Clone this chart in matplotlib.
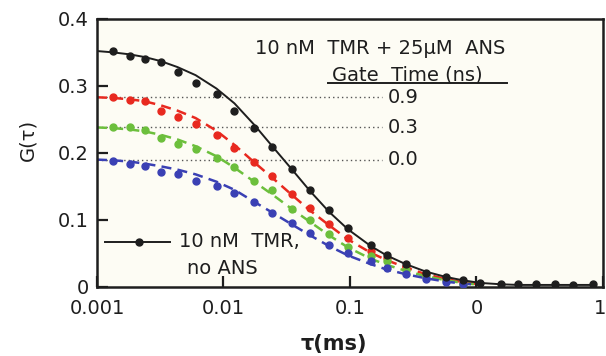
import matplotlib
matplotlib.use('agg')
import matplotlib.pyplot as plt
from matplotlib.lines import Line2D
from matplotlib.transforms import offset_copy

# tau grid (ms) of the measured points
tau = [0.00134, 0.00182, 0.00239, 0.00319, 0.00434, 0.00602, 0.00881, 0.0122,
       0.0175, 0.0243, 0.0349, 0.0484, 0.0684, 0.0964, 0.146, 0.195, 0.276,
       0.396, 0.570, 0.776, 1.07, 1.55, 2.14, 2.97, 4.19, 5.80, 8.34]

# 10 nM TMR, no ANS
g_black = [0.352, 0.345, 0.340, 0.336, 0.320, 0.305, 0.288, 0.263, 0.237, 0.209,
           0.176, 0.144, 0.115, 0.088, 0.063, 0.048, 0.034, 0.021, 0.015, 0.010,
           0.006, 0.004, 0.004, 0.004, 0.004, 0.003, 0.004]
# 10 nM TMR + 25 uM ANS, gate 0.9 / 0.3 / 0.0 ns
g_red = [0.284, 0.279, 0.278, 0.262, 0.254, 0.243, 0.227, 0.207, 0.186, 0.166,
         0.139, 0.118, 0.094, 0.073, 0.053, 0.043, 0.030, 0.019, 0.012, 0.007]
g_green = [0.238, 0.239, 0.234, 0.222, 0.213, 0.206, 0.192, 0.179, 0.158, 0.144,
           0.117, 0.100, 0.079, 0.060, 0.046, 0.038, 0.025, 0.016, 0.010, 0.005]
g_blue = [0.188, 0.183, 0.180, 0.172, 0.168, 0.158, 0.151, 0.140, 0.126, 0.111,
          0.096, 0.081, 0.063, 0.050, 0.038, 0.029, 0.019, 0.012, 0.008, 0.0045]

# fitted curves
tau_fit = [0.001] + tau
fit_black = [0.352, 0.350, 0.347, 0.343, 0.337, 0.328, 0.316, 0.296, 0.274, 0.242,
             0.210, 0.175, 0.143, 0.112, 0.086, 0.061, 0.047, 0.034, 0.023, 0.015,
             0.010, 0.006, 0.004, 0.003, 0.003, 0.003, 0.003, 0.003]
fit_red = [0.283, 0.282, 0.280, 0.277, 0.271, 0.263, 0.252, 0.233, 0.212, 0.186,
           0.163, 0.137, 0.114, 0.092, 0.071, 0.051, 0.040, 0.029, 0.019, 0.012,
           0.007, 0.004]
fit_green = [0.238, 0.237, 0.235, 0.232, 0.227, 0.220, 0.210, 0.195, 0.178, 0.157,
             0.138, 0.116, 0.097, 0.077, 0.059, 0.042, 0.033, 0.024, 0.016, 0.010,
             0.006, 0.003]
fit_blue = [0.190, 0.189, 0.187, 0.184, 0.180, 0.175, 0.168, 0.157, 0.145, 0.127,
            0.111, 0.093, 0.077, 0.061, 0.047, 0.034, 0.026, 0.019, 0.013, 0.008,
            0.005, 0.003]

gate_labels = ['0.9', '0.3', '0.0']
gate_levels = [0.283, 0.238, 0.190]

x_ticks = [0.001, 0.01, 0.1, 1, 10]
x_ticklabels = ['0.001', '0.01', '0.1', '0', '1']
y_ticks = [0, 0.1, 0.2, 0.3, 0.4]
y_ticklabels = ['0', '0.1', '0.2', '0.3', '0.4']

RED = '#e8291f'
GREEN = '#6cbf3c'
BLUE = '#3a40b4'
INK = '#1e1e1e'
FS = 14

fig = plt.figure(figsize=(6.06, 3.56), dpi=100)
ax = fig.add_axes([0.160, 0.194, 0.835, 0.753])
ax.set_facecolor('#fdfcf4')

# gate time reference lines
for lvl in gate_levels:
    ax.plot([0.001, 0.18], [lvl, lvl], linestyle=(0, (1, 2.2)), color='#555555',
            linewidth=1.0, zorder=1)

# coloured fits and points
n = len(g_red)
for fit, pts, col in [(fit_red, g_red, RED), (fit_green, g_green, GREEN), (fit_blue, g_blue, BLUE)]:
    ax.plot(tau_fit[:len(fit)], fit, color=col, linestyle=(0, (4, 2.5)), linewidth=1.8, zorder=2)
    ax.plot(tau[:n], pts, 'o', color=col, markersize=5, zorder=3)

ax.plot(tau_fit, fit_black, color=INK, linewidth=1.4, zorder=4)
ax.plot(tau, g_black, 'o', color=INK, markersize=5, zorder=5)

ax.set_xscale('log')
ax.set_xlim(0.001, 10)
ax.set_ylim(0, 0.4)
ax.set_xticks(x_ticks)
ax.set_xticklabels(x_ticklabels)
ax.set_yticks(y_ticks)
ax.set_yticklabels(y_ticklabels)
ax.minorticks_off()
ax.tick_params(axis='both', direction='in', length=8, width=1.6, colors=INK,
               labelsize=FS, pad=6)
ax.tick_params(axis='x', pad=9)
# keep the last x label inside the figure edge
last = ax.get_xticklabels()[-1]
last.set_transform(offset_copy(last.get_transform(), fig=fig, x=-3, units='dots'))
for s in ax.spines.values():
    s.set_linewidth(1.8)
    s.set_color(INK)

ax.set_ylabel('G(τ)', fontsize=FS, color=INK)
ax.yaxis.set_label_coords(-0.118, 0.55)
ax.set_xlabel('τ(ms)', fontsize=FS + 1, color=INK, fontweight='bold')
ax.xaxis.set_label_coords(0.468, -0.175)

# annotations
ax.text(0.312, 0.888, '10 nM  TMR + 25μM  ANS', transform=ax.transAxes,
        fontsize=FS, color=INK, ha='left', va='center')
ax.text(0.465, 0.79, 'Gate  Time (ns)', transform=ax.transAxes,
        fontsize=FS, color=INK, ha='left', va='center')
ax.add_line(Line2D([0.456, 0.81], [0.76, 0.76], transform=ax.transAxes,
                   color=INK, linewidth=1.4))
for lbl, lvl in zip(gate_labels, gate_levels):
    ax.text(0.575, lvl, lbl, transform=ax.get_yaxis_transform(),
            fontsize=FS, color=INK, ha='left', va='center')

# legend for the reference curve
ax.add_line(Line2D([0.016, 0.145], [0.168, 0.168], transform=ax.transAxes,
                   color=INK, linewidth=1.4))
ax.add_line(Line2D([0.083], [0.168], transform=ax.transAxes, marker='o',
                   color=INK, markersize=5))
ax.text(0.163, 0.168, '10 nM  TMR,', transform=ax.transAxes,
        fontsize=FS, color=INK, ha='left', va='center')
ax.text(0.178, 0.068, 'no ANS', transform=ax.transAxes,
        fontsize=FS, color=INK, ha='left', va='center')

fig.savefig('out.png', dpi=100, facecolor='white')
